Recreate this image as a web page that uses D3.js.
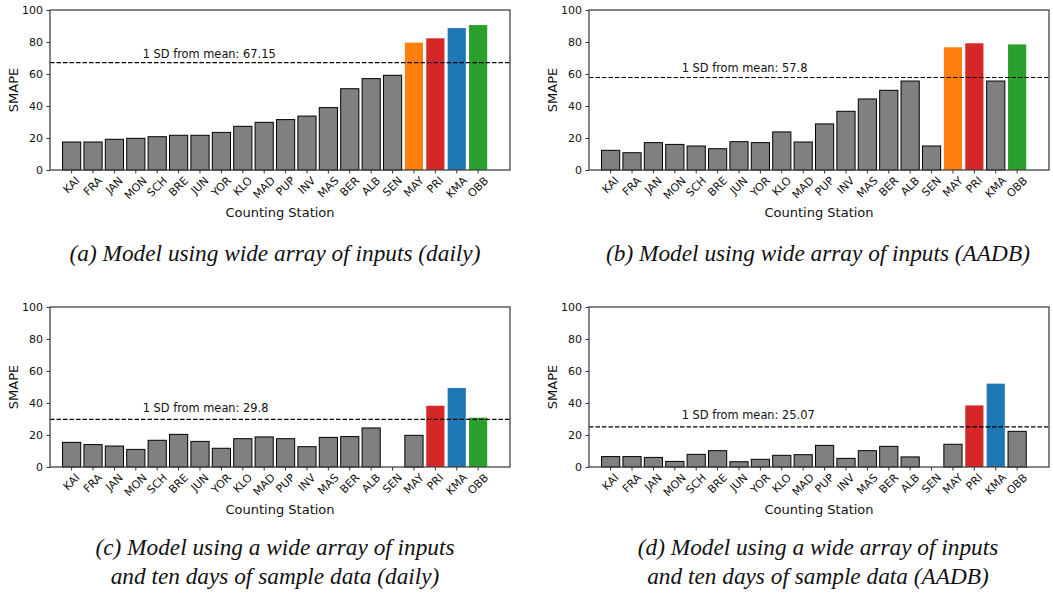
<!DOCTYPE html>
<html>
<head>
<meta charset="utf-8">
<script src="https://cdn.jsdelivr.net/npm/d3@7"></script>
<style>
  body { margin: 0; background: #fff; }
  svg text { fill: #111; }
  .tick line { stroke: #333; }
</style>
</head>
<body>
<svg id="chart" width="1053" height="593"></svg>
<script>
// counting stations, in plotting order
const stations = ["KAI", "FRA", "JAN", "MON", "SCH", "BRE", "JUN", "YOR", "KLO", "MAD",
                  "PUP", "INV", "MAS", "BER", "ALB", "SEN", "MAY", "PRI", "KMA", "OBB"]
const yTicks = [0, 20, 40, 60, 80, 100]

// SMAPE per station, one list per sub figure
const smapeWideDaily = [17.5, 17.5, 19.2, 19.8, 20.8, 21.7, 21.7, 23.5, 27.3, 29.8,
                        31.5, 33.7, 39.0, 50.8, 57.1, 59.2, 79.6, 82.3, 88.7, 90.6]
const smapeWideAadb = [12.3, 10.8, 17.1, 16.0, 15.0, 13.3, 17.7, 17.1, 23.8, 17.5,
                       28.8, 36.7, 44.4, 49.8, 55.6, 15.0, 76.7, 79.2, 55.6, 78.5]
const smapeSampleDaily = [15.4, 14.0, 13.1, 11.0, 16.7, 20.4, 16.0, 11.7, 17.7, 18.8,
                          17.7, 12.7, 18.5, 19.0, 24.4, null, 19.8, 38.3, 49.4, 30.8]
const smapeSampleAadb = [6.5, 6.5, 6.0, 3.5, 7.9, 10.2, 3.3, 4.8, 7.3, 7.7,
                         13.5, 5.4, 10.2, 12.9, 6.3, null, 14.2, 38.5, 52.1, 22.3]

// one standard deviation from mean
const sdValues = [67.15, 57.8, 29.8, 25.07]

const captions = [
  ["(a) Model using wide array of inputs (daily)"],
  ["(b) Model using wide array of inputs (AADB)"],
  ["(c) Model using a wide array of inputs", "and ten days of sample data (daily)"],
  ["(d) Model using a wide array of inputs", "and ten days of sample data (AADB)"]
]

// stations that get their own colour in each sub figure
const highlights = [
  { MAY: "#ff7f0e", PRI: "#d62728", KMA: "#1f77b4", OBB: "#2ca02c" },
  { MAY: "#ff7f0e", PRI: "#d62728", OBB: "#2ca02c" },
  { PRI: "#d62728", KMA: "#1f77b4", OBB: "#2ca02c" },
  { PRI: "#d62728", KMA: "#1f77b4" }
]

const series = [smapeWideDaily, smapeWideAadb, smapeSampleDaily, smapeSampleAadb]

// layout of the 2x2 grid
const panels = [
  { left: 50, top: 10, capX: 275, capY: 261, lift: 5 },
  { left: 589, top: 10, capX: 818, capY: 261, lift: 6 },
  { left: 50, top: 307, capX: 275, capY: 555, lift: 7 },
  { left: 589, top: 307, capX: 818, capY: 555, lift: 7.5 }
]
const width = 460
const height = 160
const font = "'DejaVu Sans', sans-serif"

const svg = d3.select("#chart")

panels.forEach((p, k) => {
  const g = svg.append("g").attr("transform", `translate(${p.left},${p.top})`)

  const x = d3.scaleBand()
    .domain(stations)
    .range([0, width])
    .paddingInner(0.15)
    .paddingOuter(0.825)
    .align(0.355)

  const y = d3.scaleLinear().domain([0, 100]).range([height, 0])

  const data = stations.map((s, i) => ({ station: s, value: series[k][i] }))
    .filter(d => d.value != null)

  g.selectAll(".bar")
    .data(data)
    .join("rect")
    .attr("class", "bar")
    .attr("x", d => x(d.station))
    .attr("y", d => y(d.value))
    .attr("width", x.bandwidth())
    .attr("height", d => height - y(d.value))
    .attr("fill", d => highlights[k][d.station] || "#808080")
    .attr("stroke", d => highlights[k][d.station] ? "none" : "#000")
    .attr("stroke-width", 1)

  // y axis
  const ya = g.append("g")
    .call(d3.axisLeft(y).tickValues(yTicks).tickSize(3.5).tickPadding(3.5))
  ya.select(".domain").remove()
  ya.selectAll("text").style("font-family", font).style("font-size", "11px")

  // x axis with 45 degree labels centred on the tick
  const xa = g.append("g")
    .attr("transform", `translate(0,${height})`)
    .call(d3.axisBottom(x).tickSize(3.5))
  xa.select(".domain").remove()
  xa.selectAll("text")
    .style("font-family", font).style("font-size", "11px")
    .attr("y", null).attr("dy", null)
    .attr("text-anchor", "middle")
    .attr("dominant-baseline", "central")
    .each(function () {
      const w = this.getComputedTextLength()
      const h = (w + 8) * Math.SQRT1_2
      d3.select(this).attr("transform", `translate(0,${6 + h / 2}) rotate(-45)`)
    })

  // 1 SD line
  const sd = sdValues[k]
  g.append("line")
    .attr("x1", 0).attr("x2", width)
    .attr("y1", y(sd)).attr("y2", y(sd))
    .attr("stroke", "#000")
    .attr("stroke-width", 1.2)
    .attr("stroke-dasharray", "4.5,2")

  const labelX = x("KAI") + x.bandwidth() / 2 + 3.32 * x.step()
  g.append("text")
    .attr("x", labelX)
    .attr("y", y(sd) - p.lift)
    .style("font-family", font).style("font-size", "11.4px")
    .text("1 SD from mean: " + sd)

  // frame
  g.append("rect")
    .attr("width", width).attr("height", height)
    .attr("fill", "none")
    .attr("stroke", "#444")
    .attr("stroke-width", 1.3)

  g.append("text")
    .attr("transform", `translate(-37,${height / 2}) rotate(-90)`)
    .attr("text-anchor", "middle")
    .attr("dominant-baseline", "central")
    .style("font-family", font).style("font-size", "13px")
    .text("SMAPE")

  g.append("text")
    .attr("x", width / 2)
    .attr("y", 202)
    .attr("text-anchor", "middle")
    .attr("dominant-baseline", "central")
    .style("font-family", font).style("font-size", "13px")
    .text("Counting Station")

  // caption
  svg.append("text")
    .attr("x", p.capX)
    .attr("y", p.capY)
    .attr("text-anchor", "middle")
    .style("font-family", "'Liberation Serif', serif")
    .style("font-style", "italic")
    .style("font-size", "23.3px")
    .selectAll("tspan")
    .data(captions[k])
    .join("tspan")
    .attr("x", p.capX)
    .attr("dy", (d, i) => i === 0 ? 0 : 28.5)
    .text(d => d)
})
</script>
</body>
</html>
